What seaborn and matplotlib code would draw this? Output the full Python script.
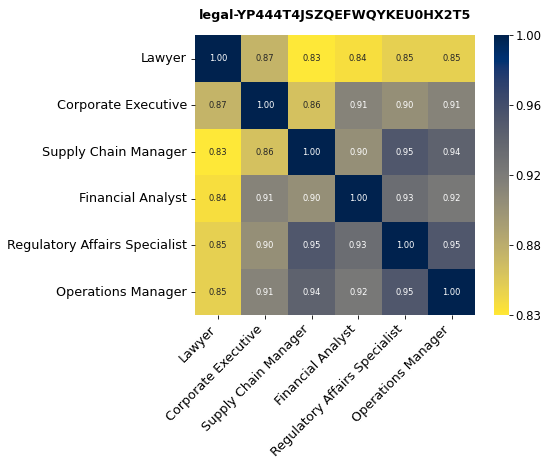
import numpy as np
import pandas as pd
import seaborn as sns
import matplotlib
matplotlib.use('Agg')
import matplotlib.pyplot as plt

roles = ['Lawyer', 'Corporate Executive', 'Supply Chain Manager',
         'Financial Analyst', 'Regulatory Affairs Specialist', 'Operations Manager']

# correlation matrix rows
row_lawyer = [1.00, 0.87, 0.83, 0.84, 0.85, 0.85]
row_exec = [0.87, 1.00, 0.86, 0.91, 0.90, 0.91]
row_supply = [0.83, 0.86, 1.00, 0.90, 0.95, 0.94]
row_fin = [0.84, 0.91, 0.90, 1.00, 0.93, 0.92]
row_reg = [0.85, 0.90, 0.95, 0.93, 1.00, 0.95]
row_ops = [0.85, 0.91, 0.94, 0.92, 0.95, 1.00]

df = pd.DataFrame([row_lawyer, row_exec, row_supply, row_fin, row_reg, row_ops],
                  index=roles, columns=roles)

vmin, vmax = 0.834, 1.0

plt.rcParams['xtick.major.size'] = 3
plt.rcParams['ytick.major.size'] = 3
plt.rcParams['xtick.major.width'] = 0.6
plt.rcParams['ytick.major.width'] = 0.6

fig = plt.figure(figsize=(5.41, 4.59), dpi=100)
ax = fig.add_axes([0.36, 0.313, 0.518, 0.61])
cax = fig.add_axes([0.913, 0.313, 0.027, 0.61])

sns.heatmap(df, ax=ax, cbar_ax=cax, cmap='cividis_r', vmin=vmin, vmax=vmax,
            annot=True, fmt='.2f', annot_kws={'size': 6}, square=False)

cbar = ax.collections[0].colorbar
cbar.set_ticks(np.linspace(vmin, vmax, 5))
cbar.set_ticklabels([f'{t:.2f}' for t in np.linspace(vmin, vmax, 5)])
cbar.ax.tick_params(labelsize=8.5, pad=2)
cbar.outline.set_visible(False)

ax.set_xticklabels(roles, rotation=45, ha='right', fontsize=9.2)
ax.set_yticklabels(roles, rotation=0, fontsize=9.2)
ax.tick_params(pad=2.5)
ax.set_title('legal-YP444T4JSZQEFWQYKEU0HX2T5', fontsize=9.2, fontweight='bold', pad=12)

fig.savefig('out.png', dpi=100)
